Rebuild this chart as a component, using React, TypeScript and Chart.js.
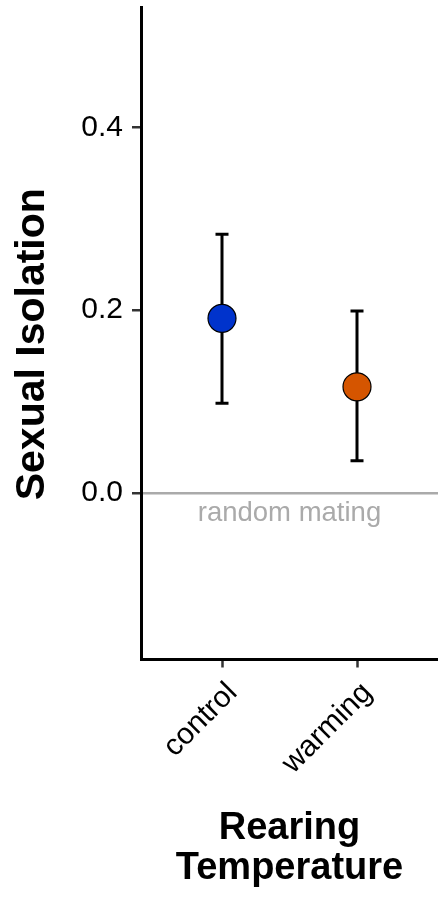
import React, { useEffect, useRef } from "react";
import { Chart, registerables } from "chart.js";

Chart.register(...registerables);

const categories = ["control", "warming"];
const xPositions = [1, 2];
const means = [0.191, 0.116];
const lowers = [0.098, 0.035];
const uppers = [0.283, 0.199];
const pointColors = ["#0033cc", "#d55500"];
const yTicks = [0, 0.2, 0.4];
const yMin = -0.1826;
const yMax = 0.532;
const xMin = 0.4;
const xMax = 2.6;
const refValue = 0;
const refLabel = "random mating";
const yTitle = "Sexual Isolation";
const xTitle = ["Rearing", "Temperature"];

const FONT = "'Liberation Sans', Arial, sans-serif";

const errorBarPlugin = {
  id: "errorBars",
  beforeDatasetsDraw(chart: any) {
    const { ctx, scales } = chart;
    const x = scales.x;
    const y = scales.y;
    ctx.save();
    ctx.strokeStyle = "#000";
    ctx.lineWidth = 3;
    xPositions.forEach((xv, i) => {
      const px = x.getPixelForValue(xv);
      const top = y.getPixelForValue(uppers[i]);
      const bot = y.getPixelForValue(lowers[i]);
      ctx.beginPath();
      ctx.moveTo(px, top);
      ctx.lineTo(px, bot);
      ctx.moveTo(px - 6.5, top);
      ctx.lineTo(px + 6.5, top);
      ctx.moveTo(px - 6.5, bot);
      ctx.lineTo(px + 6.5, bot);
      ctx.stroke();
    });
    ctx.restore();
  },
};

const refLabelPlugin = {
  id: "refLabel",
  afterDatasetsDraw(chart: any) {
    const { ctx, scales, chartArea } = chart;
    const y = scales.y;
    ctx.save();
    ctx.fillStyle = "#aaaaaa";
    ctx.font = `27.5px ${FONT}`;
    ctx.textAlign = "center";
    ctx.textBaseline = "alphabetic";
    ctx.fillText(refLabel, (chartArea.left + chartArea.right) / 2, y.getPixelForValue(refValue) + 28);
    ctx.restore();
  },
};

const yTitlePlugin = {
  id: "yTitle",
  afterDraw(chart: any) {
    const { ctx, chartArea } = chart;
    ctx.save();
    ctx.fillStyle = "#000";
    ctx.font = `bold 41px ${FONT}`;
    ctx.textAlign = "center";
    ctx.textBaseline = "alphabetic";
    ctx.translate(43.5, (chartArea.top + chartArea.bottom) / 2 + 11);
    ctx.rotate(-Math.PI / 2);
    ctx.fillText(yTitle, 0, 0);
    ctx.restore();
  },
};

const zeroPadding = (scale: any) => {
  scale.paddingTop = 0;
  scale.paddingBottom = 0;
  scale.paddingLeft = 0;
  scale.paddingRight = 0;
};

export default function App() {
  const canvasRef = useRef<HTMLCanvasElement | null>(null);

  useEffect(() => {
    const canvas = canvasRef.current;
    if (!canvas) return;
    const chart = new Chart(canvas, {
      type: "scatter",
      data: {
        datasets: [
          {
            data: xPositions.map((xv, i) => ({ x: xv, y: means[i] })),
            backgroundColor: pointColors,
            borderColor: "#000",
            borderWidth: 1.2,
            pointRadius: 14,
            pointHoverRadius: 14,
          },
        ],
      },
      options: {
        responsive: false,
        animation: false,
        events: [],
        layout: { autoPadding: false, padding: { top: 7, left: 0, right: 0, bottom: 0 } },
        plugins: {
          legend: { display: false },
          tooltip: { enabled: false },
        },
        scales: {
          x: {
            type: "linear",
            min: xMin,
            max: xMax,
            afterBuildTicks: (scale: any) => {
              scale.ticks = xPositions.map((v) => ({ value: v }));
            },
            afterFit: (scale: any) => {
              scale.height = 897 - 659.5;
              zeroPadding(scale);
            },
            ticks: {
              minRotation: 45,
              maxRotation: 45,
              padding: 8,
              labelOffset: 10.5,
              color: "#000",
              font: { family: FONT, size: 30 },
              callback: (value: any) => categories[xPositions.indexOf(Number(value))] ?? "",
            },
            grid: {
              drawOnChartArea: false,
              drawTicks: true,
              tickLength: 8,
              tickColor: "#333",
              tickWidth: 2.5,
              color: "rgba(0,0,0,0)",
            },
            border: { display: true, color: "#000", width: 3 },
            title: {
              display: true,
              text: xTitle,
              color: "#000",
              font: { family: FONT, size: 38, weight: "bold", lineHeight: 40 / 38 },
              padding: { top: 0, bottom: 8.5 },
            },
          },
          y: {
            type: "linear",
            min: yMin,
            max: yMax,
            afterBuildTicks: (scale: any) => {
              scale.ticks = yTicks.map((v) => ({ value: v }));
            },
            afterFit: (scale: any) => {
              scale.width = 141;
              zeroPadding(scale);
            },
            ticks: {
              padding: 9,
              color: "#000",
              font: { family: FONT, size: 30 },
              callback: (value: any) => Number(value).toFixed(1),
            },
            grid: {
              drawOnChartArea: true,
              drawTicks: true,
              tickLength: 9,
              tickColor: "#333",
              tickWidth: 2.5,
              lineWidth: 2.5,
              color: (ctx: any) => (ctx.tick && ctx.tick.value === refValue ? "#aaaaaa" : "rgba(0,0,0,0)"),
            },
            border: { display: true, color: "#000", width: 3 },
            title: { display: false },
          },
        },
      },
      plugins: [errorBarPlugin, refLabelPlugin, yTitlePlugin],
    } as any);
    return () => chart.destroy();
  }, []);

  return (
    <div style={{ position: "absolute", left: 0, top: 0, width: 438, height: 897, background: "#fff" }}>
      <canvas ref={canvasRef} width={438} height={897} style={{ display: "block", width: 438, height: 897 }} />
    </div>
  );
}
